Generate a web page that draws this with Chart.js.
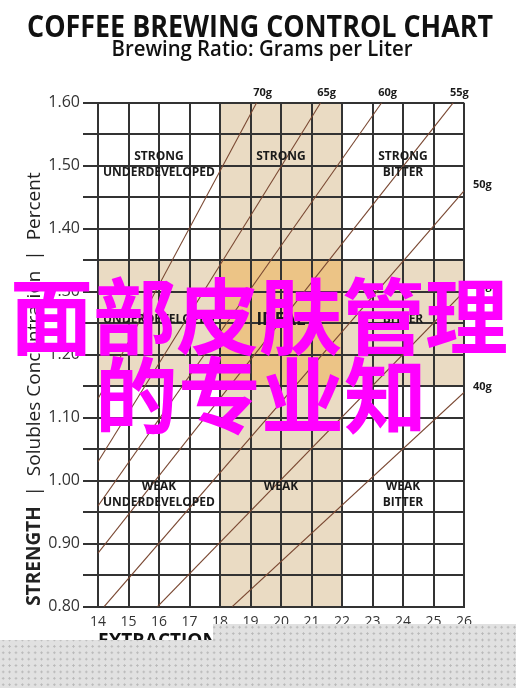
<!DOCTYPE html>
<html>
<head>
<meta charset="utf-8">
<script src="https://cdn.jsdelivr.net/npm/chart.js@4.4.1/dist/chart.umd.min.js"></script>
<style>
  html, body { margin: 0; padding: 0; background: #fff; }
  #wrap { position: relative; width: 516px; height: 688px; overflow: hidden; }
  #chart { position: absolute; left: 0; top: 0; }
  .stamp { position: absolute; color: #ff00ff; font-family: "Noto Sans CJK SC", sans-serif; font-weight: 700; font-size: 83px; line-height: 83px; white-space: nowrap; }
  .dots {
    position: absolute; left: 0; top: 624px; width: 516px; height: 64px;
    background-color: #e1e1e1;
    background-image: radial-gradient(circle, #b9b9b9 0.9px, transparent 1.3px);
    background-size: 6.4px 6.4px;
    clip-path: polygon(213px 0, 516px 0, 516px 64px, 0 64px, 0 16px, 213px 16px);
  }
</style>
</head>
<body>
<div id="wrap">
  <canvas id="chart" width="516" height="688"></canvas>
  <div class="stamp" style="left:10px; top:271px;">面部皮肤管理</div>
  <div class="stamp" style="left:95px; top:350px;">的专业知</div>
  <div class="dots"></div>
</div>
<script>
// 軸の目盛りラベル
const extractionTicks = ['14', '15', '16', '17', '18', '19', '20', '21', '22', '23', '24', '25', '26'];
const strengthTicks = ['0.80', '0.90', '1.00', '1.10', '1.20', '1.30', '1.40', '1.50', '1.60'];

// 抽出比率の線 (始点・終点, 図から読み取り)
const ratioNames = ['70g', '65g', '60g', '55g', '50g', '45g', '40g'];
const ratioStartExtraction = [14, 14, 14, 14, 14.2, 15.95, 18.4];
const ratioStartStrength = [1.13, 1.03, 0.96, 0.885, 0.80, 0.80, 0.80];
const ratioEndExtraction = [19.2, 21.3, 23.3, 25.65, 26, 26, 26];
const ratioEndStrength = [1.60, 1.60, 1.60, 1.60, 1.46, 1.30, 1.14];

// 理想範囲
const idealExtraction = [18, 22];
const idealStrength = [1.15, 1.35];

// ゾーン名 (上段・中段・下段 × 左・中・右)
const zoneNames = [
  [['STRONG', 'UNDERDEVELOPED'], ['STRONG'], ['STRONG', 'BITTER']],
  [['UNDERDEVELOPED'], ['IDEAL'], ['BITTER']],
  [['WEAK', 'UNDERDEVELOPED'], ['WEAK'], ['WEAK', 'BITTER']]
];

const GRID = '#333';
const TAN = '#eadbc3';
const IDEAL = '#ecc486';
const LINE = '#7a4832';

Chart.defaults.font.family = '"Open Sans", sans-serif';

// ゾーン名の置き場所 (1行目の位置, データ単位)
const zoneLayout = {
  cols: [16, 20, 24],
  rows: [1.514, 1.255, 0.991]
};

const backdrop = {
  id: 'backdrop',
  beforeDraw(chart) {
    const { ctx, chartArea: a, scales: { x, y } } = chart;
    ctx.save();
    ctx.fillStyle = '#fff';
    ctx.fillRect(0, 0, chart.width, chart.height);
    const x0 = x.getPixelForValue(idealExtraction[0]);
    const x1 = x.getPixelForValue(idealExtraction[1]);
    const y0 = y.getPixelForValue(idealStrength[1]);
    const y1 = y.getPixelForValue(idealStrength[0]);
    ctx.fillStyle = TAN;
    ctx.fillRect(x0, a.top, x1 - x0, a.height);
    ctx.fillRect(a.left, y0, a.width, y1 - y0);
    ctx.fillStyle = IDEAL;
    ctx.fillRect(x0, y0, x1 - x0, y1 - y0);
    ctx.restore();
  }
};

const labels = {
  id: 'labels',
  afterDatasetsDraw(chart) {
    const { ctx, scales: { x, y } } = chart;
    ctx.save();
    ctx.fillStyle = '#1a1a1a';
    ctx.textAlign = 'center';
    ctx.textBaseline = 'middle';
    // ゾーン名
    zoneNames.forEach((row, r) => {
      row.forEach((lines, c) => {
        const px = x.getPixelForValue(zoneLayout.cols[c]);
        const py = y.getPixelForValue(zoneLayout.rows[r]);
        const big = lines[0] === 'IDEAL';
        ctx.font = (big ? 'bold 17px ' : 'bold 12px ') + '"Open Sans", sans-serif';
        lines.forEach((t, i) => {
          ctx.fillText(t, px, py + i * 16);
        });
      });
    });
    // 比率ラベル
    ctx.font = 'bold 11px "Open Sans", sans-serif';
    ratioNames.forEach((name, i) => {
      const px = x.getPixelForValue(ratioEndExtraction[i]);
      const py = y.getPixelForValue(ratioEndStrength[i]);
      if (ratioEndStrength[i] >= 1.6) {
        ctx.textAlign = 'center';
        ctx.fillText(name, px + 6, py - 10);
      } else {
        ctx.textAlign = 'left';
        ctx.fillText(name, px + 9, py - 6);
      }
    });
    ctx.restore();
  },
  afterDraw(chart) {
    const { ctx } = chart;
    ctx.save();
    ctx.fillStyle = '#111';
    ctx.textAlign = 'center';
    ctx.textBaseline = 'alphabetic';
    ctx.font = 'bold 30px "Open Sans", sans-serif';
    ctx.fillText('COFFEE BREWING CONTROL CHART', 260, 37, 466);
    ctx.font = '600 22px "Open Sans", sans-serif';
    ctx.fillText('Brewing Ratio: Grams per Liter', 262, 56, 301);

    // 縦軸タイトル (太字と通常の混在)
    const parts = [
      ['bold 19px "Open Sans", sans-serif', 'STRENGTH'],
      ['19px "Open Sans", sans-serif', '  |  Solubles Concentration  |  Percent']
    ];
    let total = 0;
    parts.forEach(p => { ctx.font = p[0]; total += ctx.measureText(p[1]).width; });
    ctx.translate(35, 389);
    ctx.rotate(-Math.PI / 2);
    ctx.textAlign = 'left';
    ctx.textBaseline = 'middle';
    ctx.fillStyle = '#222';
    let pos = -total / 2;
    parts.forEach(p => {
      ctx.font = p[0];
      ctx.fillText(p[1], pos, 0);
      pos += ctx.measureText(p[1]).width;
    });
    ctx.restore();

    // 横軸タイトル
    ctx.save();
    ctx.fillStyle = '#111';
    ctx.font = 'bold 19px "Open Sans", sans-serif';
    ctx.textAlign = 'left';
    ctx.fillText('EXTRACTION  |  Solubles Yield  |  Percent', 98, 647);
    ctx.restore();
  }
};

const datasets = ratioNames.map((name, i) => ({
  label: name,
  data: [
    { x: ratioStartExtraction[i], y: ratioStartStrength[i] },
    { x: ratioEndExtraction[i], y: ratioEndStrength[i] }
  ],
  showLine: true,
  borderColor: LINE,
  borderWidth: 1.1,
  pointRadius: 0,
  fill: false
}));

new Chart(document.getElementById('chart'), {
  type: 'scatter',
  data: { datasets },
  options: {
    responsive: false,
    animation: false,
    events: [],
    layout: { padding: { top: 102.7, right: 52, left: 0, bottom: 0 } },
    plugins: {
      legend: { display: false },
      title: { display: false },
      tooltip: { enabled: false }
    },
    scales: {
      x: {
        type: 'linear',
        min: 14,
        max: 26,
        ticks: {
          stepSize: 1,
          autoSkip: false,
          maxRotation: 0,
          padding: 7,
          color: '#333',
          font: { size: 14 },
          callback: (v, i) => extractionTicks[i]
        },
        grid: { color: GRID, lineWidth: 2, drawTicks: false },
        border: { color: GRID, width: 2 },
        afterFit: s => { s.height = 81.3; }
      },
      y: {
        min: 0.8,
        max: 1.6,
        ticks: {
          stepSize: 0.05,
          autoSkip: false,
          padding: 3,
          color: '#333',
          font: { size: 16 },
          callback: (v, i) => (i % 2 === 0 ? strengthTicks[i / 2] : '')
        },
        grid: { color: GRID, lineWidth: 2, tickLength: 15 },
        border: { color: GRID, width: 2 },
        afterFit: s => { s.width = 98; }
      }
    }
  },
  plugins: [backdrop, labels]
});
</script>
</body>
</html>
